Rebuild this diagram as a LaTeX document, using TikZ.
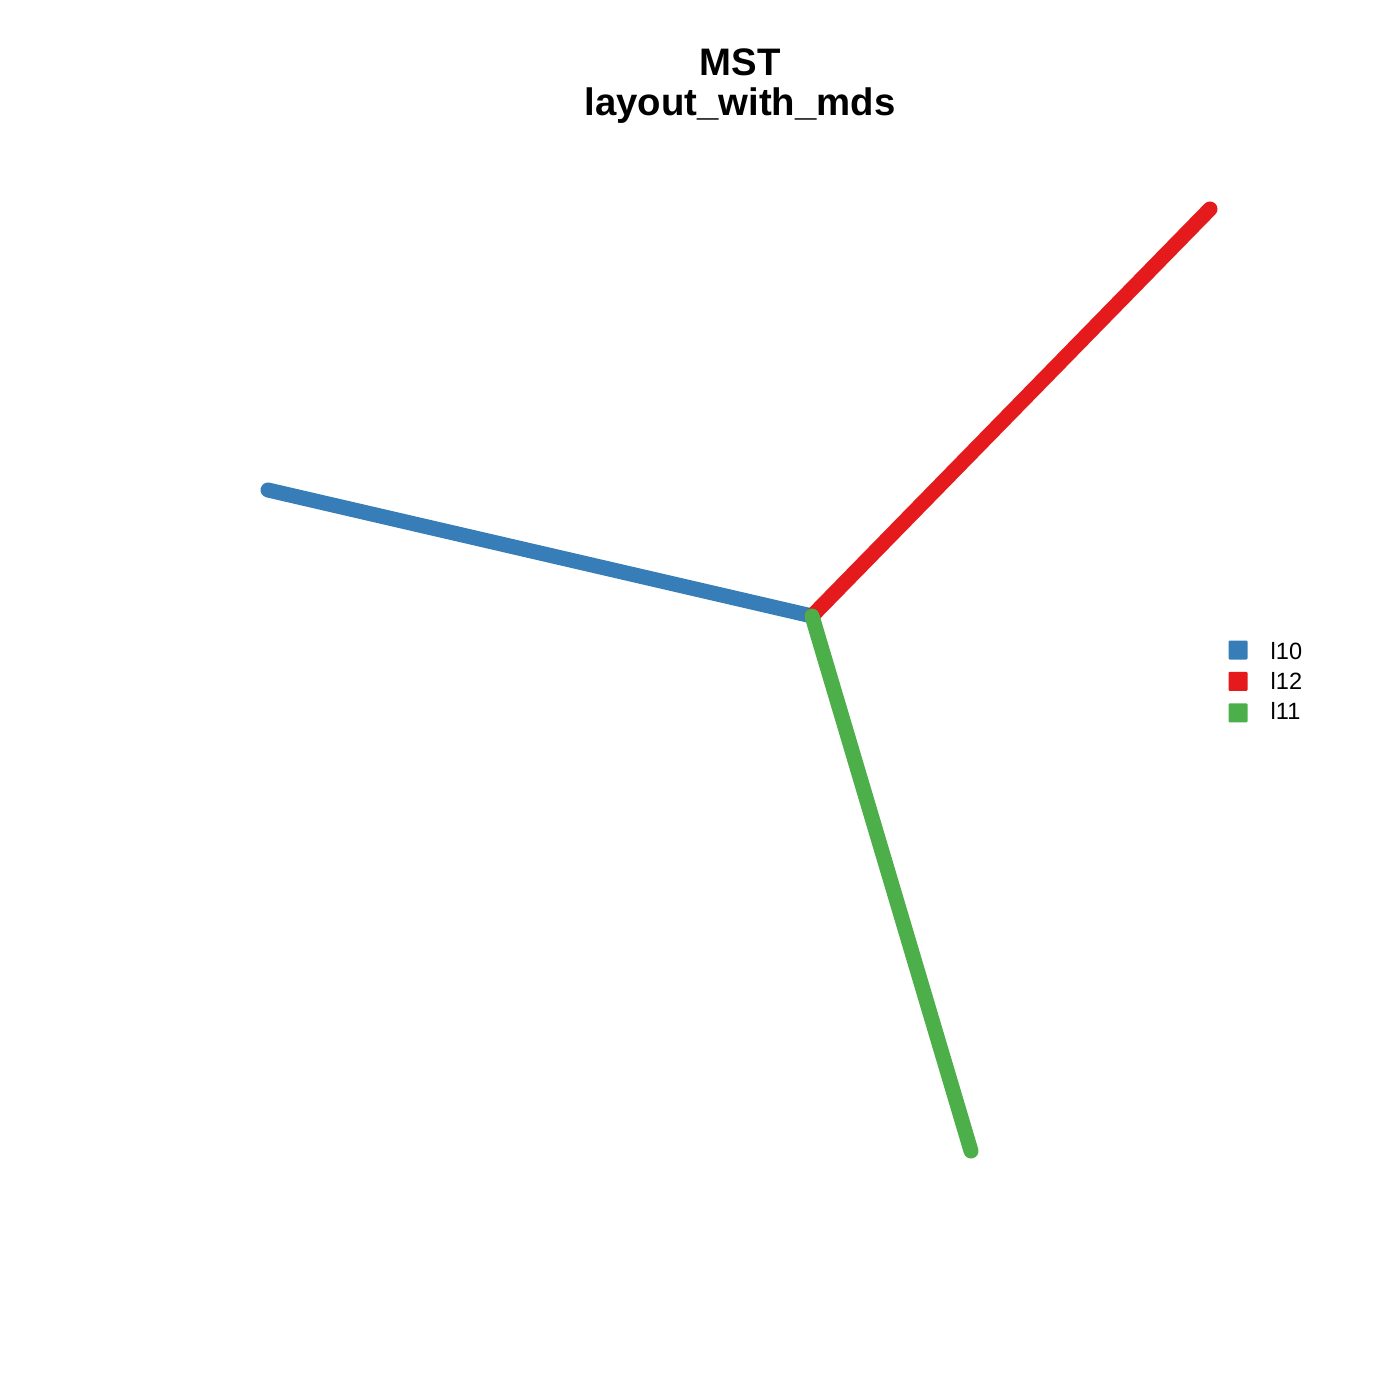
\documentclass[tikz,border=0pt]{standalone}
\usepackage{fontspec}
\setmainfont{Liberation Sans}
\usepackage{tikz}
\usetikzlibrary{positioning}

\definecolor{setblue}{HTML}{377EB8}
\definecolor{setred}{HTML}{E41A1C}
\definecolor{setgreen}{HTML}{4DAF4A}

\begin{document}
\begin{tikzpicture}[x=0.01cm, y=-0.01cm, node distance=0.3cm,
    edge/.style={line width=0.15cm, line cap=round},
    key/.style={rectangle, rounded corners=0.3pt, minimum size=0.19cm, inner sep=0pt},
    keytext/.style={font=\fontsize{6.7}{8}\selectfont, inner sep=0pt, anchor=west}]
    \useasboundingbox (0,0) rectangle (1400,1400);

    \node[font=\bfseries\fontsize{10.9}{11.4}\selectfont, align=center] (title) at (740,86) {MST\\layout\_with\_mds};

    \coordinate (hub) at (812,616);
    \coordinate (l10) at (268,490);
    \coordinate (l12) at (1210,209);
    \coordinate (l11) at (971,1151);

    \draw[edge, setblue] (hub) -- (l10);
    \draw[edge, setred] (hub) -- (l12);
    \draw[edge, setgreen] (hub) -- (l11);

    % legend
    \node[key, fill=setblue] (k10) at (1238,650) {};
    \node[key, fill=setred, below=0.11cm of k10] (k12) {};
    \node[key, fill=setgreen, below=0.11cm of k12] (k11) {};
    \node[keytext] at (1270,651) {l10};
    \node[keytext] at (1270,681) {l12};
    \node[keytext] at (1270,711) {l11};
\end{tikzpicture}
\end{document}
